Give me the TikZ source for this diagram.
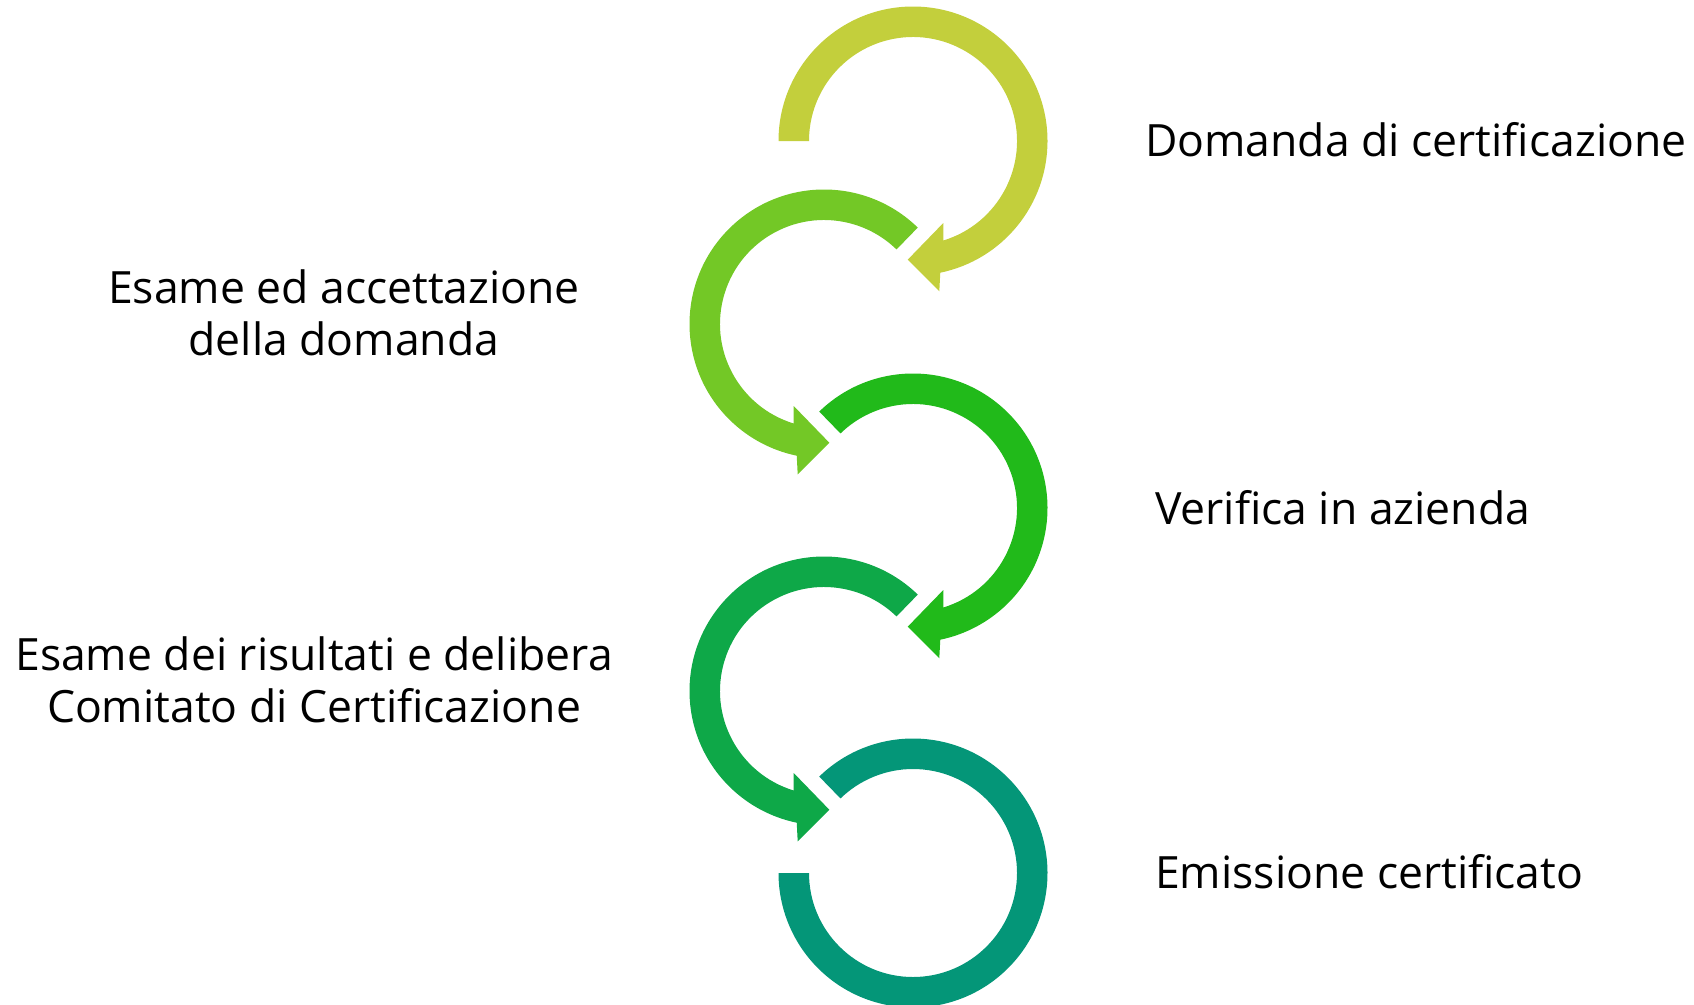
\documentclass[tikz,border=0pt]{standalone}
\usepackage{fontspec}
\setmainfont{Open Sans}
\definecolor{cA}{RGB}{195,207,60}
\definecolor{cB}{RGB}{115,200,38}
\definecolor{cC}{RGB}{33,186,26}
\definecolor{cD}{RGB}{14,168,72}
\definecolor{cE}{RGB}{4,150,120}
\begin{document}
\begin{tikzpicture}[x=1pt,y=-1pt,
  lbl/.style={font=\fontsize{44.5}{52}\selectfont, inner sep=0pt, text=black}]
\useasboundingbox (0,0) rectangle (1694,1004);
\clip (0,0) rectangle (1694,1004);
% ring 1
\begin{scope}[shift={(913,141)}]
\fill[cA] (180:134.5) arc[start angle=180, end angle=438.3, radius=134.5]
  -- (26.3,150.3) -- (-5.3,118.7) -- (30.3,82) -- (433:104)
  arc[start angle=433, end angle=180, radius=104] -- cycle;
\end{scope}
% ring 2
\begin{scope}[shift={(824,324)}, xscale=-1]
\fill[cB] (225.8:134.5) arc[start angle=225.8, end angle=438.3, radius=134.5]
  -- (26.3,150.3) -- (-5.3,118.7) -- (30.3,82) -- (433:104)
  arc[start angle=433, end angle=225.8, radius=104] -- cycle;
\end{scope}
% ring 3
\begin{scope}[shift={(913,508)}]
\fill[cC] (225.8:134.5) arc[start angle=225.8, end angle=438.3, radius=134.5]
  -- (26.3,150.3) -- (-5.3,118.7) -- (30.3,82) -- (433:104)
  arc[start angle=433, end angle=225.8, radius=104] -- cycle;
\end{scope}
% ring 4
\begin{scope}[shift={(824,691)}, xscale=-1]
\fill[cD] (225.8:134.5) arc[start angle=225.8, end angle=438.3, radius=134.5]
  -- (26.3,150.3) -- (-5.3,118.7) -- (30.3,82) -- (433:104)
  arc[start angle=433, end angle=225.8, radius=104] -- cycle;
\end{scope}
% ring 5
\begin{scope}[shift={(913,873)}]
\fill[cE] (225.8:134.5) arc[start angle=225.8, end angle=540, radius=134.5]
  -- (540:104) arc[start angle=540, end angle=225.8, radius=104] -- cycle;
\end{scope}
% labels
\node[lbl, anchor=base west] (t1) at (1145,156.7) {Domanda di certificazione};
\node[lbl, align=center, anchor=base] (t2) at (344,355) {Esame ed accettazione\\della domanda};
\node[lbl, anchor=base west] (t3) at (1155,524.5) {Verifica in azienda};
\node[lbl, align=center, anchor=base] (t4) at (314,722) {Esame dei risultati e delibera\\Comitato di Certificazione};
\node[lbl, anchor=base west] (t5) at (1155,888.3) {Emissione certificato};
\end{tikzpicture}
\end{document}
